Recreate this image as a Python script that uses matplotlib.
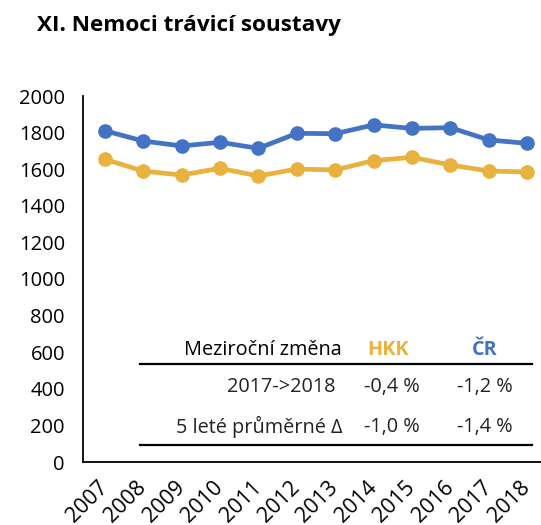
import matplotlib
matplotlib.use("Agg")
import matplotlib.pyplot as plt

years = ["2007", "2008", "2009", "2010", "2011", "2012", "2013", "2014", "2015", "2016", "2017", "2018"]
cr = [1810, 1754, 1727, 1747, 1714, 1796, 1794, 1842, 1823, 1827, 1760, 1741]
hkk = [1654, 1590, 1568, 1605, 1563, 1601, 1596, 1647, 1665, 1623, 1590, 1585]
yticks = [0, 200, 400, 600, 800, 1000, 1200, 1400, 1600, 1800, 2000]

table_header = ["Meziroční změna", "HKK", "ČR"]
table_rows = [["2017->2018", "-0,4 %", "-1,2 %"],
              ["5 leté průměrné \u0394", "-1,0 %", "-1,4 %"]]

BLUE = "#4472C4"
GOLD = "#E9B13E"
plt.rcParams['font.family'] = ['Open Sans', 'DejaVu Sans']

fig = plt.figure(figsize=(5.41, 5.25), dpi=100)
ax = fig.add_axes([83/541, 1 - 462/525, 1 - 83/541, (462 - 96)/525])
x = list(range(len(years)))
ax.plot(x, cr, color=BLUE, lw=3.4, marker='o', ms=9.5, zorder=3)
ax.plot(x, hkk, color=GOLD, lw=3.4, marker='o', ms=9.5, zorder=3)
ax.set_ylim(0, 2000)
ax.set_xlim(-0.57, 11.36)
ax.set_yticks(yticks)
ax.set_yticklabels([str(v) for v in yticks], fontsize=14.5)
ax.set_xticks(x)
ax.set_xticklabels(years, rotation=45, ha='right', va='center', rotation_mode='anchor', fontsize=15.5)
ax.tick_params(length=0)
ax.tick_params(axis='y', pad=13)
ax.tick_params(axis='x', pad=16)
for s in ['top', 'right']:
    ax.spines[s].set_visible(False)
for s in ['left', 'bottom']:
    ax.spines[s].set_linewidth(1.3)
    ax.spines[s].set_color('black')

fig.text(37/541, 1 - 26/525, "XI. Nemoci trávicí soustavy", fontsize=16.2, fontweight='bold', va='center', ha='left')

def fy(py):
    return 1 - py/525

fs = 14.3
fig.text(342/541, fy(350), table_header[0], fontsize=fs, ha='right', va='center')
fig.text(388/541, fy(350), table_header[1], fontsize=fs, ha='center', va='center', color=GOLD, fontweight='bold')
fig.text(485/541, fy(350), table_header[2], fontsize=fs, ha='center', va='center', color=BLUE, fontweight='bold')
row_y = [387, 427]
row_right = [335, 342]
for ry, rr, row in zip(row_y, row_right, table_rows):
    fig.text(rr/541, fy(ry), row[0], fontsize=fs, ha='right', va='center', color='#222222')
    fig.text(392/541, fy(ry), row[1], fontsize=fs, ha='center', va='center', color='#222222')
    fig.text(485/541, fy(ry), row[2], fontsize=fs, ha='center', va='center', color='#222222')
for ly in [364, 445]:
    fig.add_artist(plt.Line2D([140/541, 532/541], [fy(ly), fy(ly)], color='black', lw=1.6, transform=fig.transFigure))

fig.savefig("out.png", dpi=100)
